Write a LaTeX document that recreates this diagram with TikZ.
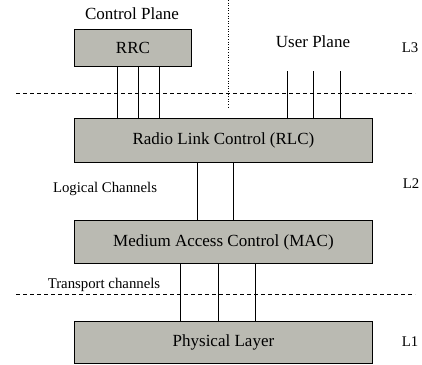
\documentclass[tikz,border=0pt]{standalone}
\usepackage{fontspec}
\setmainfont{Liberation Serif}
\definecolor{boxgray}{RGB}{186,186,178}
\begin{document}
\begin{tikzpicture}[x=1pt,y=-1pt,
  layerbox/.style={draw=black,line width=0.9pt,fill=boxgray,anchor=north west,inner sep=0pt,font=\fontsize{17}{20}\selectfont},
  biglabel/.style={font=\fontsize{17}{20}\selectfont,inner sep=0pt},
  smalllabel/.style={font=\fontsize{14.8}{17}\selectfont,inner sep=0pt},
  chan/.style={line width=0.7pt},
  sep/.style={dashed,line width=0.6pt,dash pattern=on 4pt off 3pt}]
\useasboundingbox (0,0) rectangle (422,364);
% boxes
\node[layerbox,minimum width=117pt,minimum height=37pt] (rrc) at (74,29) {};
\node at (rrc.center) [biglabel] {RRC};
\node[layerbox,minimum width=298pt,minimum height=44pt] (rlc) at (74,118) {};
\node at (rlc.center) [biglabel] {Radio Link Control (RLC)};
\node[layerbox,minimum width=298pt,minimum height=43pt] (mac) at (74,220) {};
\node at (mac.center) [biglabel] {Medium Access Control (MAC)};
\node[layerbox,minimum width=298pt,minimum height=42pt] (phy) at (74,321) {};
\node at (phy.center) [biglabel] {Physical Layer};
% separators
\coordinate (d1a) at (16,93); \coordinate (d1b) at (415,93);
\coordinate (d2a) at (16,294); \coordinate (d2b) at (415,294);
\coordinate (v1) at (228,0); \coordinate (v2) at (228,108);
\draw[sep] (d1a) -- (d1b);
\draw[sep] (d2a) -- (d2b);
\draw[dotted,line width=0.6pt] (v1) -- (v2);
% RRC - RLC
\foreach \x in {117,138,159} \draw[chan] (\x,66) -- (\x,118);
% user plane
\foreach \x in {287,313,340} \draw[chan] (\x,71) -- (\x,118);
% RLC - MAC
\foreach \x in {197,233} \draw[chan] (\x,162) -- (\x,220);
% MAC - PHY
\foreach \x in {180,218,255} \draw[chan] (\x,263) -- (\x,321);
% labels
\node[biglabel] (cp) at (132,14) {Control Plane};
\node[biglabel] (up) at (313,42) {User Plane};
\node[smalllabel] (l3) at (410,48) {L3};
\node[smalllabel] (lc) at (105,189) {Logical Channels};
\node[smalllabel] (l2) at (411,184) {L2};
\node[smalllabel] (tc) at (104,285) {Transport channels};
\node[smalllabel] (l1) at (410,342) {L1};
\end{tikzpicture}
\end{document}
